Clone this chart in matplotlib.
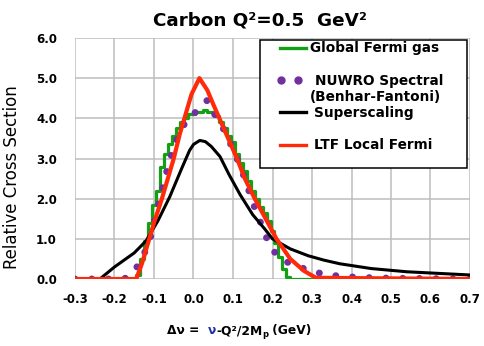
import matplotlib
matplotlib.use('Agg')
import matplotlib.pyplot as plt
from matplotlib.patches import Rectangle
from matplotlib.lines import Line2D

# Valeurs
fermi_x = [-0.30, -0.15, -0.14, -0.13, -0.12, -0.11, -0.10, -0.09, -0.08, -0.07, -0.06,
           -0.05, -0.04, -0.03, -0.02, -0.01, 0.00, 0.01, 0.02, 0.03, 0.04, 0.05,
           0.06, 0.07, 0.08, 0.09, 0.10, 0.11, 0.12, 0.13, 0.14, 0.15, 0.16, 0.17,
           0.18, 0.19, 0.20, 0.21, 0.22, 0.23, 0.24, 0.25, 0.70]
fermi_y = [0.0, 0.0, 0.1, 0.5, 0.95, 1.4, 1.85, 2.2, 2.8, 3.1, 3.35,
           3.55, 3.75, 3.9, 4.0, 4.1, 4.1, 4.15, 4.15, 4.2, 4.15, 4.15,
           4.05, 3.9, 3.75, 3.55, 3.4, 3.1, 2.9, 2.7, 2.45, 2.2, 2.0, 1.8,
           1.65, 1.45, 1.2, 0.9, 0.55, 0.25, 0.05, 0.0, 0.0]

nuwro_x = [-0.30, -0.20, -0.17, -0.15, -0.13, -0.11, -0.09, -0.07, -0.05, -0.03,
           -0.01, 0.005, 0.02, 0.035, 0.05, 0.07, 0.09, 0.11, 0.13, 0.15, 0.17,
           0.19, 0.21, 0.23, 0.26, 0.29, 0.33, 0.37, 0.42, 0.50, 0.60, 0.70]
nuwro_y = [0.0, 0.0, 0.02, 0.2, 0.5, 1.0, 1.8, 2.6, 3.3, 3.75,
           4.05, 4.15, 4.3, 4.45, 4.15, 3.85, 3.45, 3.0, 2.5, 1.9, 1.4,
           0.9, 0.6, 0.45, 0.33, 0.22, 0.12, 0.07, 0.04, 0.02, 0.01, 0.0]

ss_x = [-0.30, -0.237, -0.20, -0.15, -0.12, -0.09, -0.06, -0.03, -0.01, 0.0, 0.016,
        0.03, 0.045, 0.067, 0.09, 0.118, 0.15, 0.18, 0.20, 0.245, 0.29, 0.33,
        0.37, 0.45, 0.54, 0.62, 0.70]
ss_y = [0.0, 0.0, 0.3, 0.65, 0.95, 1.45, 2.05, 2.75, 3.2, 3.35, 3.45,
        3.42, 3.3, 3.05, 2.6, 2.1, 1.6, 1.25, 1.0, 0.75, 0.58, 0.47,
        0.38, 0.26, 0.18, 0.14, 0.1]

ltf_x = [-0.30, -0.145, -0.13, -0.115, -0.10, -0.08, -0.065, -0.05, -0.035, -0.02,
         -0.005, 0.015, 0.035, 0.05, 0.07, 0.09, 0.11, 0.13, 0.155, 0.18, 0.21,
         0.245, 0.28, 0.31, 0.70]
ltf_y = [0.0, 0.0, 0.4, 0.9, 1.4, 2.0, 2.5, 3.0, 3.6, 4.1,
         4.6, 5.0, 4.7, 4.35, 3.9, 3.45, 3.0, 2.5, 2.0, 1.55, 1.0,
         0.5, 0.2, 0.03, 0.0]

x_ticks = [-0.3, -0.2, -0.1, 0.0, 0.1, 0.2, 0.3, 0.4, 0.5, 0.6, 0.7]
y_ticks = [0.0, 1.0, 2.0, 3.0, 4.0, 5.0, 6.0]

green = '#14a014'
purple = '#7030a0'
red = '#ff2a0a'

W, H = 485, 346
fig = plt.figure(figsize=(W / 100, H / 100), dpi=100)


def px(x, y):
    return x / W, 1 - y / H


ax = fig.add_axes([75 / W, 1 - 279 / H, 395 / W, 241 / H])
ax.plot(fermi_x, fermi_y, color=green, lw=2.3, drawstyle='steps-mid', zorder=3)
ax.plot(nuwro_x, nuwro_y, color=purple, lw=5, linestyle=(0, (0.01, 2.4)),
        dash_capstyle='round', zorder=4)
ax.plot(ss_x, ss_y, color='black', lw=2.2, zorder=5)
ax.plot(ltf_x, ltf_y, color=red, lw=3, zorder=6)

ax.set_xlim(-0.3, 0.7)
ax.set_ylim(0, 6)
ax.set_xticks(x_ticks)
ax.set_yticks(y_ticks)
ax.set_xticklabels(['%.1f' % v for v in x_ticks])
ax.set_yticklabels(['%.1f' % v for v in y_ticks])
ax.tick_params(length=0, labelsize=8.5, pad=10)
ax.tick_params(axis='y', pad=13)
for lab in ax.get_xticklabels() + ax.get_yticklabels():
    lab.set_fontweight('bold')
ax.grid(True, color='#bdbdbd', lw=1.1)
for s in ax.spines.values():
    s.set_visible(False)
ax.set_axisbelow(True)

# titre et axe y
fig.text(260 / W, 1 - 20 / H, 'Carbon Q²=0.5  GeV²', ha='center', va='center',
         fontsize=13.2, fontweight='bold')
fig.text(12 / W, 1 - 177 / H, 'Relative Cross Section', rotation=90,
         ha='center', va='center', fontsize=13.2, fontstretch='condensed',
         family='DejaVu Sans')

# legende faite a la main
fig.add_artist(Rectangle(px(260, 168), 207 / W, 128 / H, transform=fig.transFigure,
                         facecolor='white', edgecolor='black', lw=1.1, zorder=10))
leg_fs = 9.8
for col, yy in [(green, 48), ('black', 112), (red, 145)]:
    x0, y0 = px(280, yy)
    x1, _ = px(306, yy)
    fig.add_artist(Line2D([x0, x1], [y0, y0], color=col, lw=2.4,
                          transform=fig.transFigure, zorder=11))
for xx in [281, 298]:
    fig.add_artist(Line2D([px(xx, 80)[0]], [px(xx, 80)[1]], marker='o', ms=5,
                          color=purple, transform=fig.transFigure, zorder=11))
for txt, xx, yy in [('Global Fermi gas', 310, 48), ('NUWRO Spectral', 315, 81),
                    ('(Benhar-Fantoni)', 310, 97), ('Superscaling', 314, 113),
                    ('LTF Local Fermi', 314, 145)]:
    fig.text(*px(xx, yy), txt, ha='left', va='center', fontsize=leg_fs,
             fontweight='bold', zorder=12)

# titre axe x, avec nu en bleu
r = fig.canvas.get_renderer()
xpos = 167
base = 1 - 334 / H
pieces = [('Δν =  ', 'black', 8.8, 0), ('ν', '#1f2fa8', 8.8, 0),
          ('-Q²/2M', 'black', 8.8, 0), ('p', 'black', 6, -3), (' (GeV)', 'black', 8.8, 0)]
for txt, col, fs, dy in pieces:
    t = fig.text(xpos / W, base + dy / H, txt, color=col, fontsize=fs,
                 fontweight='bold', ha='left', va='baseline')
    bb = t.get_window_extent(renderer=r)
    xpos += bb.width

fig.savefig('out.png', dpi=100)
